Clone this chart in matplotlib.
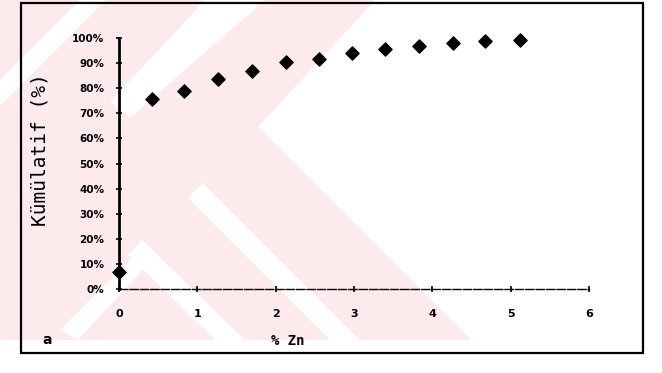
import matplotlib.pyplot as plt
from matplotlib.patches import Rectangle, Polygon

# data
zn = [0, 0.42, 0.83, 1.27, 1.70, 2.13, 2.55, 2.98, 3.40, 3.83, 4.27, 4.67, 5.12]
kumulatif = [6.8, 75.7, 78.9, 83.7, 86.8, 90.4, 91.6, 94.0, 95.6, 96.8, 98.0, 98.8, 99.2]
x_ticks = [0, 1, 2, 3, 4, 5, 6]
y_ticks = [0, 10, 20, 30, 40, 50, 60, 70, 80, 90, 100]
y_labels = ["0%", "10%", "20%", "30%", "40%", "50%", "60%", "70%", "80%", "90%", "100%"]

W, H = 662, 373
fig = plt.figure(figsize=(W / 100, H / 100), dpi=100)
fig.patch.set_facecolor("white")

# background layer for the faint watermark and the outer frame (pixel coords)
bg = fig.add_axes([0, 0, 1, 1], zorder=-1)
bg.set_xlim(0, W)
bg.set_ylim(H, 0)
bg.axis("off")

pink = "#fdeaec"
bg.add_patch(Polygon([(0, 0), (375, 0), (258, 127), (471, 340), (0, 340)],
                     facecolor=pink, edgecolor="none"))
white_bands = [
    [(80, 0), (106, 0), (0, 106), (0, 80)],
    [(205, 0), (265, 0), (130, 118), (110, 102)],
    [(188, 198), (203, 183), (360, 340), (330, 340)],
    [(128, 255), (142, 240), (245, 340), (215, 340)],
    [(60, 330), (140, 250), (150, 262), (78, 340)],
]
for band in white_bands:
    bg.add_patch(Polygon(band, facecolor="white", edgecolor="none"))

bg.add_patch(Rectangle((21, 3), 643 - 21, 353 - 3, fill=False,
                       edgecolor="black", linewidth=1.6))

ax = fig.add_axes([119 / W, 84 / H, 470 / W, 251 / H])
ax.patch.set_alpha(0)
ax.scatter(zn, kumulatif, marker="D", s=45, color="black", clip_on=False, zorder=5)

ax.set_xlim(0, 6)
ax.set_ylim(0, 100)
ax.set_xticks(x_ticks)
ax.set_xticklabels([str(t) for t in x_ticks], fontsize=8, fontweight="bold")
ax.set_yticks(y_ticks)
ax.set_yticklabels(y_labels, fontsize=7.5, fontweight="bold")

for s in ["top", "right"]:
    ax.spines[s].set_visible(False)
ax.spines["left"].set_linewidth(2)
ax.spines["bottom"].set_linewidth(1)
ax.spines["bottom"].set_linestyle((0, (6, 1.5)))
ax.tick_params(axis="y", direction="inout", length=5, width=1.2, pad=8)
ax.tick_params(axis="x", direction="inout", length=5, width=1.2, pad=12)

fig.text(40 / W, 1 - 150 / H, "Kümülatif (%)", rotation=90, ha="center", va="center",
         fontsize=14, family="DejaVu Sans Mono")
fig.text(288 / W, 1 - 341 / H, "% Zn", ha="center", va="center",
         fontsize=10, fontweight="bold", family="DejaVu Sans Mono")
fig.text(47 / W, 1 - 340 / H, "a", ha="center", va="center",
         fontsize=10, fontweight="bold")

fig.savefig("out.png", dpi=100)
